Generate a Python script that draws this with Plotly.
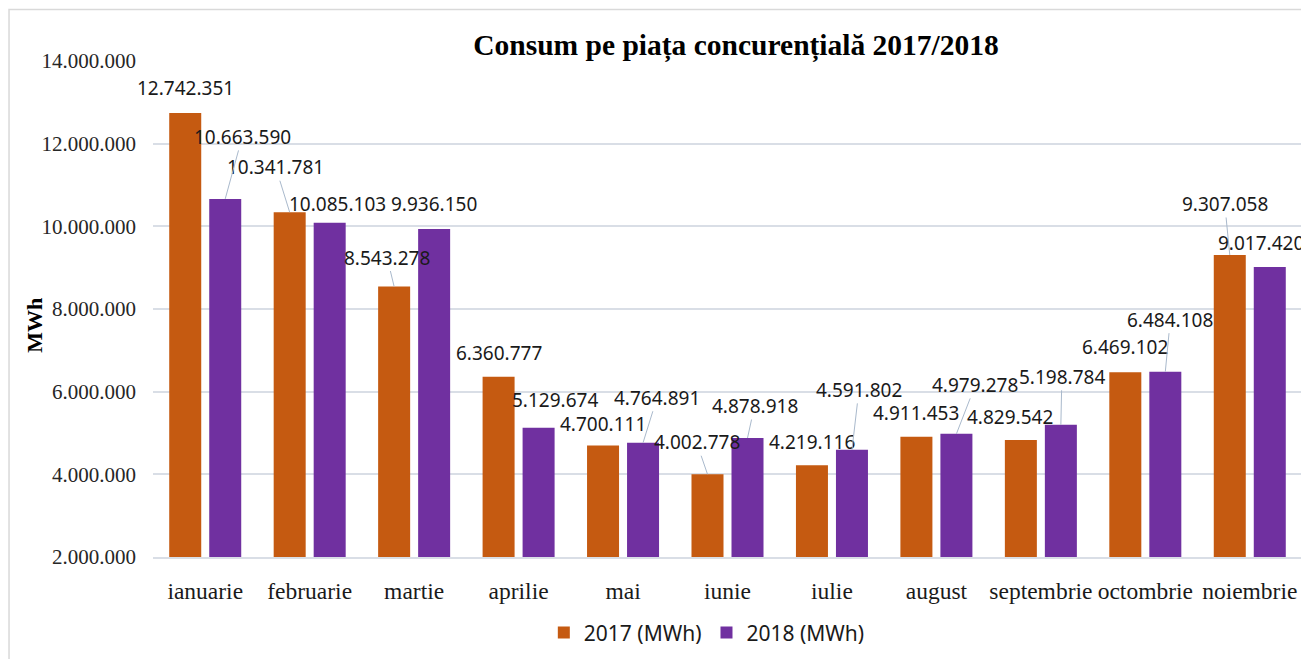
import plotly.graph_objects as go

# ---- data ----
months = ["ianuarie", "februarie", "martie", "aprilie", "mai", "iunie",
          "iulie", "august", "septembrie", "octombrie", "noiembrie"]
values_2017 = [12742351, 10341781, 8543278, 6360777, 4700111, 4002778,
               4219116, 4911453, 4829542, 6469102, 9307058]
values_2018 = [10663590, 10085103, 9936150, 5129674, 4764891, 4878918,
               4591802, 4979278, 5198784, 6484108, 9017420]
series_names = ["2017 (MWh)", "2018 (MWh)"]
y_ticks = [2000000, 4000000, 6000000, 8000000, 10000000, 12000000, 14000000]

# ---- label placement (pixel offsets, leader line flag) ----
offs_2017 = [(0, -25, 0), (-14, -45, 1), (-7, -29, 1), (0, -24, 0), (0, -21, 0),
             (-11, -32, 1), (0, -23, 0), (0, -24, 0), (-11, -23, 0), (0, -25, 0),
             (-5, -51, 1)]
offs_2018 = [(17, -62, 1), (8, -19, 0), (0, -25, 0), (16, -28, 0), (14, -45, 1),
             (7, -32, 1), (7, -60, 1), (19, -49, 1), (1, -48, 1), (5, -52, 1),
             (-9, -24, 0)]

colors = ["#C55A11", "#7030A0"]
BARGAP = 0.234
GROUPGAP = 0.2


def fmt(v):
    return f"{v:,}".replace(",", ".")


fig = go.Figure()
for name, vals, col in zip(series_names, [values_2017, values_2018], colors):
    fig.add_trace(go.Bar(name=name, x=months, y=vals, marker_color=col,
                         marker_line_width=0))

slot = (1 - BARGAP) / 2
annotations = []
for s, (vals, offs) in enumerate([(values_2017, offs_2017), (values_2018, offs_2018)]):
    shift = (s - 0.5) * slot
    for i, (v, (ax, ay, line)) in enumerate(zip(vals, offs)):
        annotations.append(dict(
            x=i + shift, y=v, xref="x", yref="y", text=fmt(v),
            showarrow=True, arrowhead=0, arrowwidth=1, standoff=0,
            arrowcolor="#A9B9CC" if line else "rgba(0,0,0,0)",
            ax=ax, ay=ay, axref="pixel", ayref="pixel",
            font=dict(family="Noto Sans", size=19, color="#1a1a1a"),
            borderpad=0,
        ))

annotations.append(dict(
    x=-0.1027, y=0.468, xref="paper", yref="paper", text="<b>MWh</b>",
    showarrow=False, textangle=-90, xanchor="center", yanchor="middle",
    font=dict(family="Liberation Serif", size=22, color="#000000"),
))

fig.update_layout(
    width=1301, height=651,
    margin=dict(l=145, r=7, t=53, b=102, autoexpand=False),
    paper_bgcolor="white", plot_bgcolor="white",
    barmode="group", bargap=BARGAP, bargroupgap=GROUPGAP,
    title=dict(text="<b>Consum pe piața concurențială 2017/2018</b>",
               x=0.5596, xanchor="center", y=0.9432, yanchor="middle",
               font=dict(family="Liberation Serif", size=29.5, color="#000000")),
    xaxis=dict(type="category", range=[-0.5, len(months) - 0.5],
               showgrid=False, showline=True,
               linecolor="#D9DEE6", linewidth=2, ticks="",
               tickangle=0, automargin=False,
               ticklabelstandoff=12,
               tickfont=dict(family="Liberation Serif", size=23.5, color="#1a1a1a")),
    yaxis=dict(range=[2000000, 14000000], tickvals=y_ticks,
               ticktext=[fmt(t) for t in y_ticks],
               showgrid=True, gridcolor="#D9DEE6", gridwidth=2,
               zeroline=False, showline=False, ticks="", automargin=False,
               ticklabelstandoff=16,
               tickfont=dict(family="Liberation Serif", size=21, color="#262626")),
    legend=dict(orientation="h", x=0.482, xanchor="center", y=-0.153,
                yanchor="middle", font=dict(family="Noto Sans", size=21, color="#1a1a1a"),
                itemwidth=30, traceorder="normal"),
    annotations=annotations,
    shapes=[dict(type="rect", xref="paper", yref="paper",
                 x0=-0.1253, x1=1.05, y0=-0.228, y1=1.1038,
                 line=dict(color="#D9D9D9", width=1.5), fillcolor="rgba(0,0,0,0)",
                 layer="below")],
)

fig.write_html("out.html")
